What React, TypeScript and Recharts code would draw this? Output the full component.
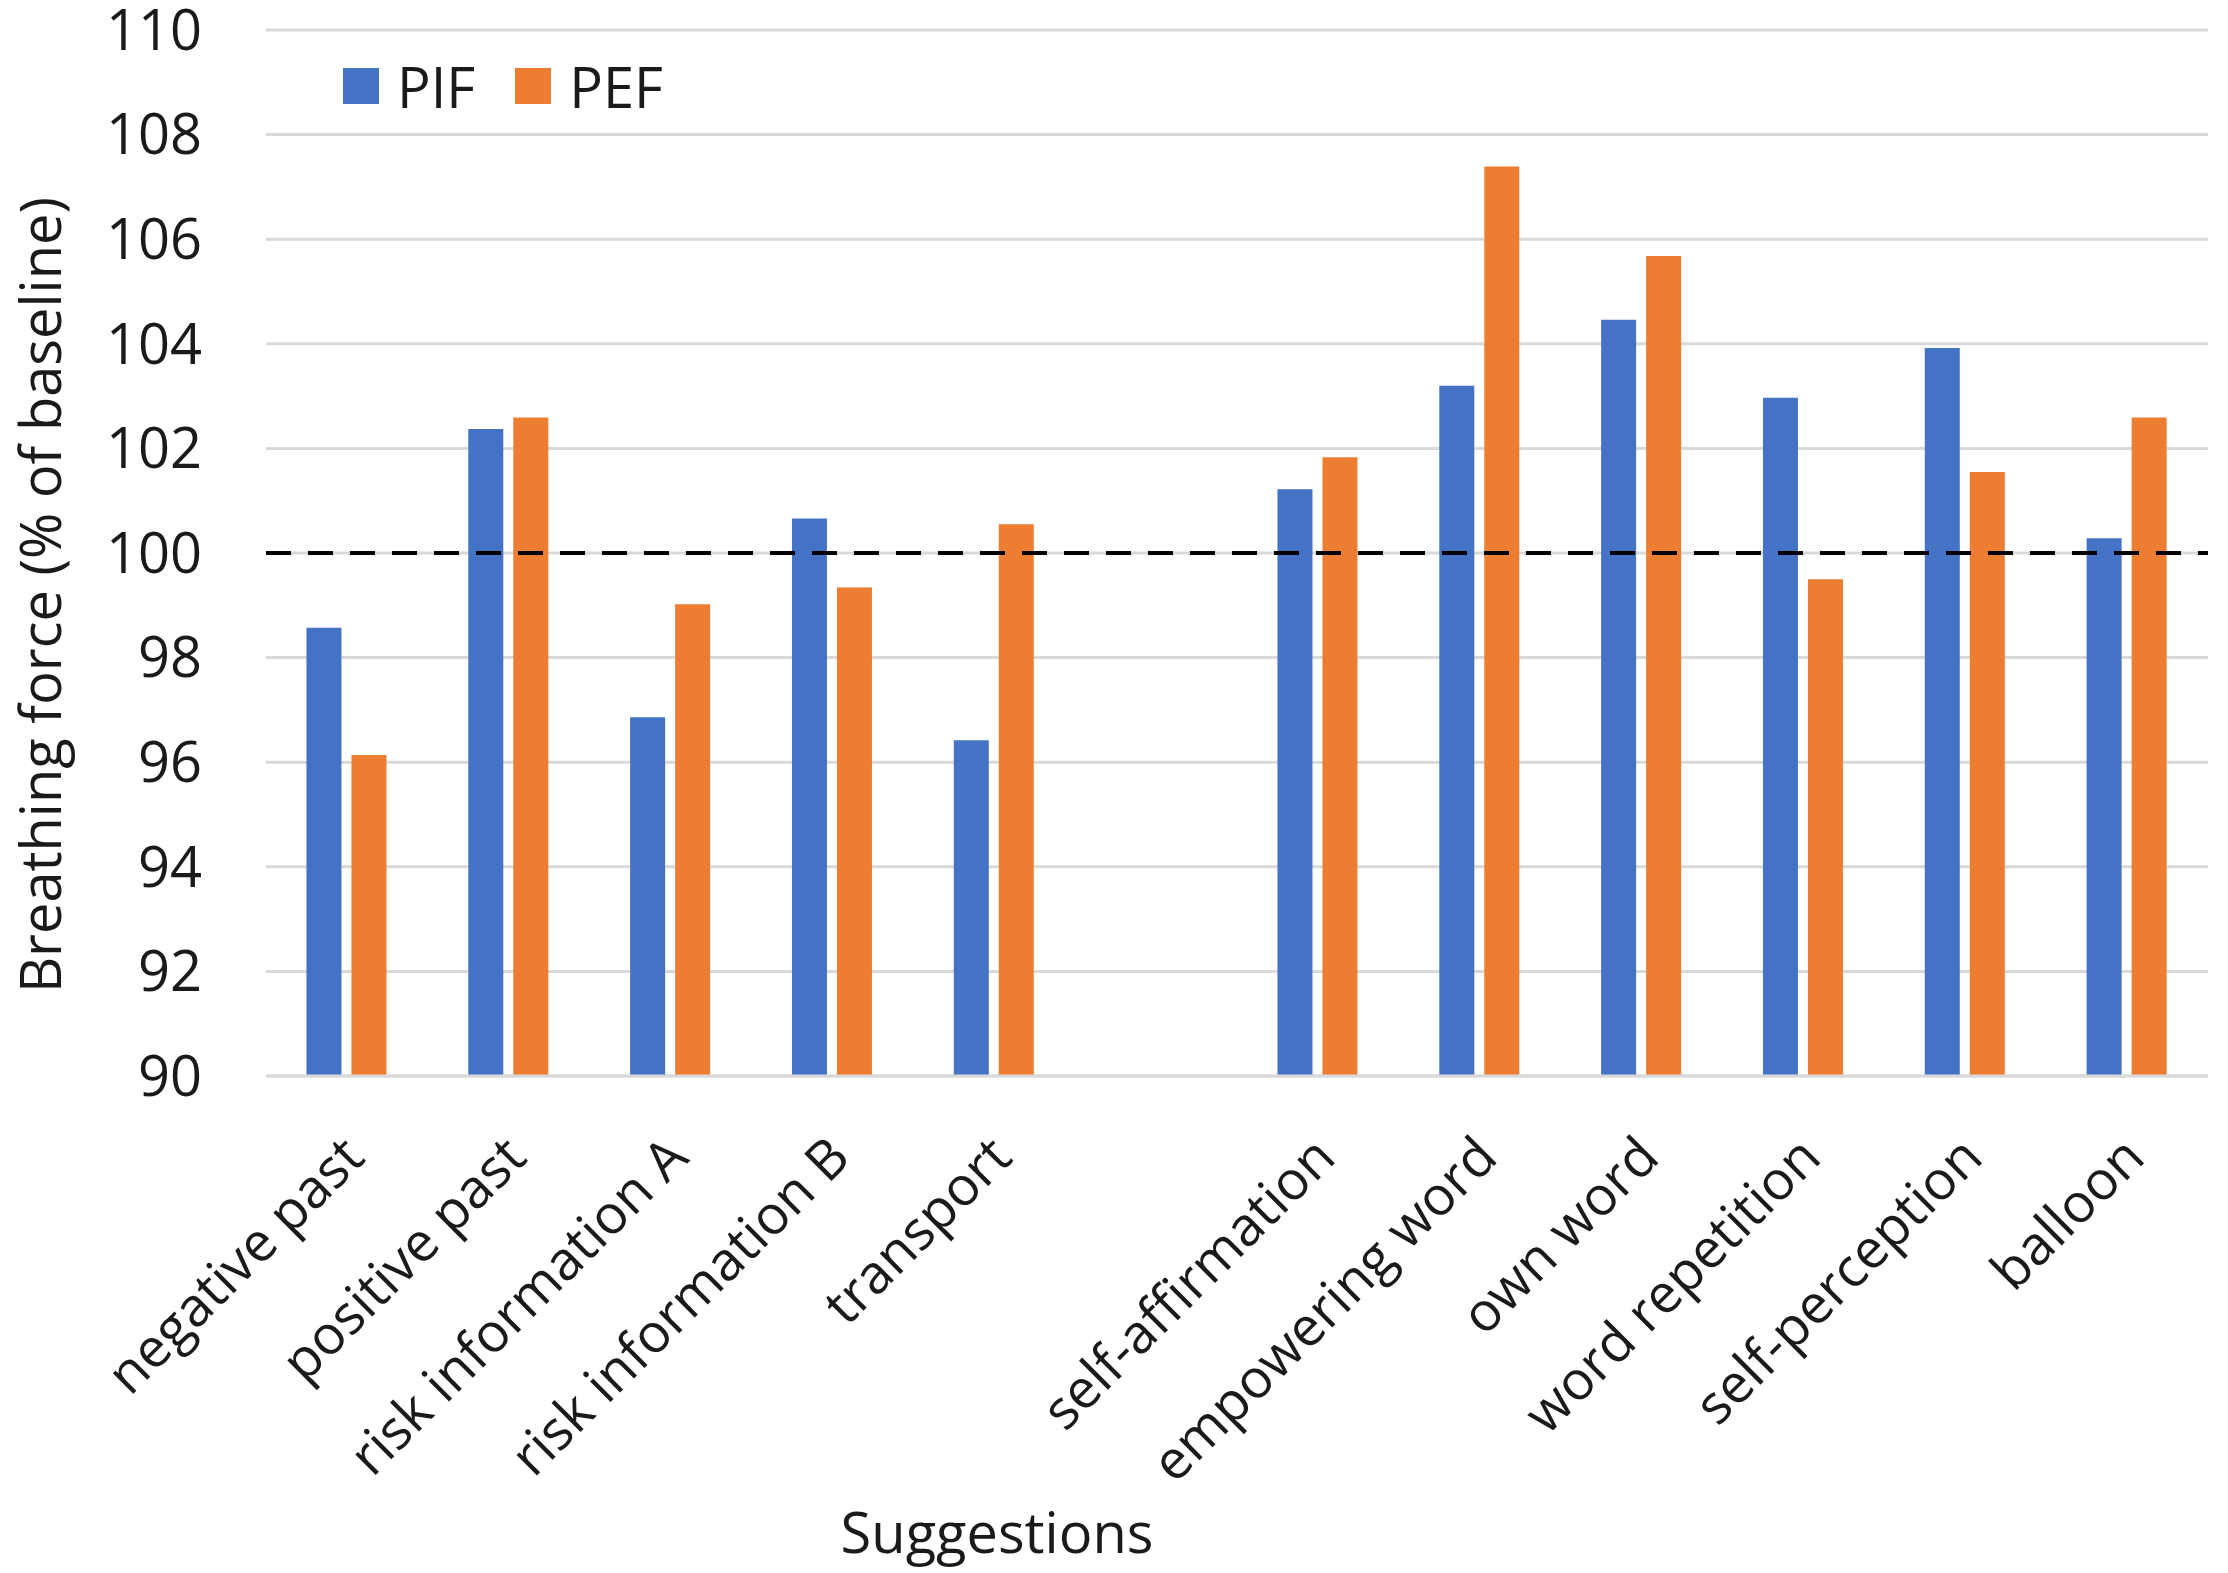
import { BarChart, Bar, XAxis, YAxis, CartesianGrid, ReferenceLine, Legend, Label } from "recharts";

document.body.style.margin = "0";

const categories = [
  "negative past",
  "positive past",
  "risk information A",
  "risk information B",
  "transport",
  "",
  "self-affirmation",
  "empowering word",
  "own word",
  "word repetition",
  "self-perception",
  "balloon",
];
const pifValues = [98.57, 102.37, 96.86, 100.66, 96.42, null, 101.22, 103.2, 104.46, 102.97, 103.92, 100.28];
const pefValues = [96.14, 102.59, 99.02, 99.34, 100.55, null, 101.83, 107.39, 105.68, 99.5, 101.55, 102.59];
const yTicks = [90, 92, 94, 96, 98, 100, 102, 104, 106, 108, 110];
const seriesOrder = ["PIF", "PEF"];

const FONT = "'Open Sans', sans-serif";
const BLUE = "#4472C4";
const ORANGE = "#ED7D31";

const data = categories.map((name, i) => ({
  key: `c${i}`,
  name,
  PIF: pifValues[i],
  PEF: pefValues[i],
}));

const nameByKey: Record<string, string> = {};
data.forEach((d) => (nameByKey[d.key] = d.name));

const RotatedTick = (props: any) => {
  const { x, y, payload } = props;
  return (
    <g transform={`translate(${x + 20},${y + 76})`}>
      <text
        transform="rotate(-45)"
        textAnchor="end"
        fontFamily={FONT}
        fontSize={54}
        fill="#1a1a1a"
      >
        {nameByKey[payload.value]}
      </text>
    </g>
  );
};

const LegendContent = (props: any) => {
  const items = [...(props.payload || [])].sort(
    (a: any, b: any) => seriesOrder.indexOf(a.value) - seriesOrder.indexOf(b.value)
  );
  return (
    <div style={{ display: "flex", alignItems: "center", fontFamily: FONT, fontSize: 56, color: "#1a1a1a" }}>
      {items.map((it: any, i: number) => (
        <div key={i} style={{ display: "flex", alignItems: "center", marginRight: 40 }}>
          <div style={{ width: 36, height: 36, background: it.color, marginRight: 18 }} />
          <span style={{ lineHeight: "56px" }}>{it.value}</span>
        </div>
      ))}
    </div>
  );
};

export default function App() {
  return (
    <div style={{ background: "#fff", width: 2228, height: 1573 }}>
      <BarChart
        width={2228}
        height={1573}
        data={data}
        margin={{ top: 30, right: 20, left: 0, bottom: 0 }}
        barCategoryGap="25%"
        barGap={10}
      >
        <CartesianGrid vertical={false} stroke="#d9d9d9" strokeWidth={3} />
        <XAxis
          dataKey="key"
          height={497}
          interval={0}
          tickLine={false}
          axisLine={{ stroke: "#d9d9d9", strokeWidth: 3 }}
          tick={<RotatedTick />}
        >
          <Label
            content={({ viewBox }: any) => (
              <text
                x={viewBox.x + viewBox.width / 2 - 240}
                y={1553}
                textAnchor="middle"
                fontFamily={FONT}
                fontSize={56}
                fill="#1a1a1a"
              >
                Suggestions
              </text>
            )}
          />
        </XAxis>
        <YAxis
          width={266}
          domain={[90, 110]}
          ticks={yTicks}
          interval={0}
          tickLine={false}
          axisLine={false}
          tickSize={6}
          tickMargin={58}
          tick={{ fontFamily: FONT, fontSize: 56, fill: "#1a1a1a" }}
        >
          <Label
            content={() => (
              <text
                x={61}
                y={595}
                transform="rotate(-90, 61, 595)"
                textAnchor="middle"
                fontFamily={FONT}
                fontSize={56}
                fill="#1a1a1a"
              >
                Breathing force (% of baseline)
              </text>
            )}
          />
        </YAxis>
        <Legend
          layout="horizontal"
          verticalAlign="middle"
          align="center"
          content={<LegendContent />}
          wrapperStyle={{ position: "absolute", left: 343, top: 58, width: "auto" }}
        />
        <Bar dataKey="PIF" name="PIF" fill={BLUE} isAnimationActive={false} />
        <Bar dataKey="PEF" name="PEF" fill={ORANGE} isAnimationActive={false} />
        <ReferenceLine y={100} stroke="#000" strokeWidth={4} strokeDasharray="25 17" ifOverflow="visible" />
      </BarChart>
    </div>
  );
}
